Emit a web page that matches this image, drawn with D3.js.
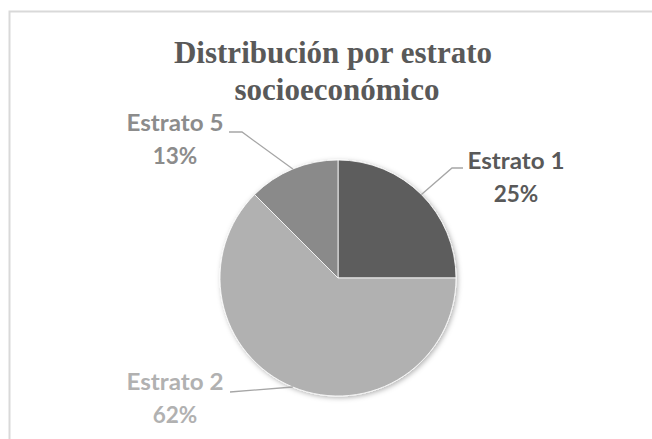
<!DOCTYPE html>
<meta charset="utf-8">
<style>
  body { margin: 0; background: #fff; }
  .title {
    font-family: "Liberation Serif", "Times New Roman", serif;
    font-weight: bold;
    font-size: 31px;
    fill: #595959;
    text-anchor: middle;
  }
  .label {
    font-family: Lato, "Open Sans", sans-serif;
    font-weight: bold;
    font-size: 22.5px;
    text-anchor: middle;
  }
</style>

<svg class="pie_chart" width="652" height="439"></svg>

<script src="https://d3js.org/d3.v7.min.js"></script>

<script>

  // data
  var categories = ["Estrato 1", "Estrato 2", "Estrato 5"];
  var shares = [25, 62.5, 12.5];
  var shareLabels = ["25%", "62%", "13%"];
  var sliceColors = ["#5d5d5d", "#b1b1b1", "#8a8a8a"];
  var labelColors = ["#595959", "#b1b1b1", "#8c8c8c"];
  var titleLines = ["Distribución por estrato", "socioeconómico"];

  var svg = d3.select(".pie_chart"),
      width = +svg.attr("width"),
      height = +svg.attr("height");

  var cx = 338, cy = 278, radius = 118;

  // chart frame (right and bottom edges fall outside the picture)
  svg.append("rect")
      .attr("x", 9.5)
      .attr("y", 11.5)
      .attr("width", 700)
      .attr("height", 500)
      .attr("fill", "#fff")
      .attr("stroke", "#d9d9d9")
      .attr("stroke-width", 2);

  var defs = svg.append("defs");
  var shadow = defs.append("filter")
      .attr("id", "soft")
      .attr("x", "-20%").attr("y", "-20%")
      .attr("width", "140%").attr("height", "140%");
  shadow.append("feDropShadow")
      .attr("dx", 1.5).attr("dy", 1.5)
      .attr("stdDeviation", 2.5)
      .attr("flood-color", "#000")
      .attr("flood-opacity", 0.3);

  // title
  var title = svg.append("text")
      .attr("class", "title");
  title.selectAll("tspan")
      .data(titleLines)
      .enter().append("tspan")
      .attr("x", function (d, i) { return i ? 337 : 333; })
      .attr("y", function (d, i) { return i ? 100 : 63; })
      .text(function (d) { return d; });

  var rows = categories.map(function (c, i) {
    return { name: c, value: shares[i], pct: shareLabels[i], fill: sliceColors[i], ink: labelColors[i] };
  });

  var pie = d3.pie()
      .sort(null)
      .value(function (d) { return d.value; });

  var arc = d3.arc()
      .innerRadius(0)
      .outerRadius(radius);

  var arcs = pie(rows);

  var g = svg.append("g")
      .attr("transform", "translate(" + cx + "," + cy + ")");

  g.append("g")
      .attr("filter", "url(#soft)")
      .selectAll("path")
      .data(arcs)
      .enter().append("path")
          .attr("d", arc)
          .attr("fill", function (d) { return d.data.fill; })
          .attr("stroke", "#fff")
          .attr("stroke-width", 0.8);

  // label placement, Excel style (best fit outside)
  var labelPos = {
    "Estrato 1": { x: 516, y: 169, lx: 463, ly: 168, knee: [452, 168] },
    "Estrato 2": { x: 175, y: 390, lx: 230, ly: 392, knee: null },
    "Estrato 5": { x: 175, y: 131, lx: 229, ly: 132, knee: [242, 132] }
  };

  var leaders = svg.append("g")
      .attr("fill", "none")
      .attr("stroke", "#a6a6a6")
      .attr("stroke-width", 1.3);

  arcs.forEach(function (d) {
    var p = labelPos[d.data.name];
    var mid = (d.startAngle + d.endAngle) / 2;
    var ex = cx + radius * Math.sin(mid),
        ey = cy - radius * Math.cos(mid);
    var pts = [[p.lx, p.ly]];
    if (p.knee) pts.push(p.knee);
    pts.push([ex, ey]);
    leaders.append("path").attr("d", d3.line()(pts));

    var t = svg.append("text")
        .attr("class", "label")
        .attr("fill", d.data.ink);
    t.append("tspan")
        .attr("x", p.x)
        .attr("y", p.y)
        .attr("textLength", 97)
        .attr("lengthAdjust", "spacingAndGlyphs")
        .text(d.data.name);
    t.append("tspan")
        .attr("x", p.x)
        .attr("y", p.y + 33)
        .text(d.data.pct);
  });

</script>
